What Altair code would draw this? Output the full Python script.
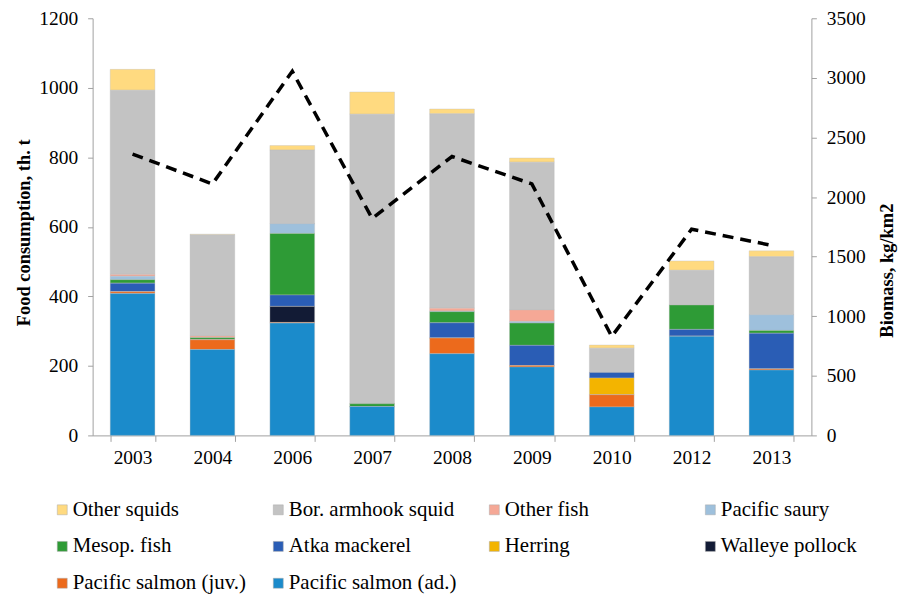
import altair as alt
import pandas as pd

years = ["2003", "2004", "2006", "2007", "2008", "2009", "2010", "2012", "2013"]

# legend order (top of stack first)
categories = ["Other squids", "Bor. armhook squid", "Other fish", "Pacific saury",
              "Mesop. fish", "Atka mackerel", "Herring", "Walleye pollock",
              "Pacific salmon (juv.)", "Pacific salmon (ad.)"]
colors = ["#FFDA80", "#C3C3C3", "#F5A896", "#9EC0DC",
          "#2E9B36", "#2A5DB5", "#F3B400", "#121B35",
          "#EC6A1C", "#1B8BCB"]

other_squids = [60, 2, 13, 64, 14, 12, 9, 27, 17]
bor_armhook = [530, 291, 212, 833, 559, 425, 70, 100, 167]
other_fish = [5, 5, 0, 0, 8, 33, 0, 0, 0]
pacific_saury = [10, 0, 28, 0, 2, 5, 0, 0, 45]
mesop_fish = [10, 6, 177, 8, 32, 64, 0, 70, 8]
atka_mackerel = [25, 0, 33, 0, 44, 58, 16, 20, 103]
herring = [0, 0, 0, 0, 0, 0, 48, 0, 0]
walleye_pollock = [0, 0, 46, 0, 0, 0, 0, 0, 0]
salmon_juv = [5, 28, 2, 0, 45, 4, 35, 0, 3]
salmon_ad = [408, 247, 323, 83, 235, 197, 82, 285, 188]

biomass = [2360, 2110, 3055, 1820, 2340, 2110, 830, 1730, 1595]

series = [other_squids, bor_armhook, other_fish, pacific_saury, mesop_fish,
          atka_mackerel, herring, walleye_pollock, salmon_juv, salmon_ad]

rows = []
for ci, (cat, vals) in enumerate(zip(categories, series)):
    for y, v in zip(years, vals):
        rows.append({"year": y, "category": cat, "value": v,
                     "ord": len(categories) - ci})
df = pd.DataFrame(rows)
line_df = pd.DataFrame({"year": years, "biomass": biomass})

FONT = "Liberation Serif, DejaVu Serif, serif"

x_enc = alt.X("year:N", sort=years,
              scale=alt.Scale(paddingInner=0.44, paddingOuter=0.22),
              axis=alt.Axis(title=None, labelAngle=0, labelFontSize=19.5,
                            labelFont=FONT, labelColor="black", labelPadding=7,
                            tickBand="extent", tickSize=6, tickColor="#A0A0A0",
                            domainColor="#A0A0A0"))

bars = alt.Chart(df).mark_bar(stroke="#BDBDBD", strokeWidth=0.6, strokeOpacity=0.6).encode(
    x=x_enc,
    y=alt.Y("sum(value):Q", stack="zero",
            scale=alt.Scale(domain=[0, 1200], nice=False),
            axis=alt.Axis(title="Food consumption, th. t", values=list(range(0, 1201, 200)),
                          format="d", grid=False, labelFontSize=19.5, labelFont=FONT,
                          labelColor="black",
                          titleFont=FONT, titleFontSize=18.5, titleFontWeight="bold",
                          titleColor="black", titleX=-69, titleY=215,
                          titleAngle=270, titleBaseline="middle", titleAlign="center",
                          tickSize=5, tickColor="#A0A0A0", domainColor="#A0A0A0",
                          labelPadding=10)),
    color=alt.Color("category:N", sort=categories,
                    scale=alt.Scale(domain=categories, range=colors),
                    legend=alt.Legend(title=None, orient="none", legendX=-41, legendY=483,
                                      columns=4, direction="horizontal", gridAlign="all",
                                      columnPadding=21, rowPadding=15,
                                      symbolType="square", symbolSize=100,
                                      symbolStrokeColor="#AAAAAA", symbolStrokeWidth=0.5,
                                      labelFont=FONT, labelFontSize=21, labelColor="black",
                                      labelOffset=0, labelLimit=300, padding=0)),
    order=alt.Order("ord:Q", sort="ascending"),
)

line = alt.Chart(line_df).mark_line(color="black", strokeWidth=3.5,
                                    strokeDash=[11, 7]).encode(
    x=alt.X("year:N", sort=years),
    y=alt.Y("biomass:Q", scale=alt.Scale(domain=[0, 3500], nice=False),
            axis=alt.Axis(title="Biomass, kg/km2", orient="right",
                          values=list(range(0, 3501, 500)), format="d", grid=False,
                          labelFontSize=19.5, labelFont=FONT, labelColor="black",
                          titleFont=FONT, titleFontSize=18.5, titleFontWeight="bold",
                          titleColor="black", titleAngle=270, titleX=75, titleY=253,
                          titleBaseline="middle", titleAlign="center",
                          tickSize=5, tickColor="#A0A0A0", domainColor="#A0A0A0",
                          labelPadding=10)),
)

chart = alt.layer(bars, line).resolve_scale(y="independent").properties(
    width=722, height=419,
    autosize=alt.AutoSizeParams(type="none"),
    padding={"left": 85, "top": 9, "right": 88, "bottom": 160},
).configure_view(stroke=None)

chart.save("out.html", embed_options={"renderer": "svg", "actions": False})
